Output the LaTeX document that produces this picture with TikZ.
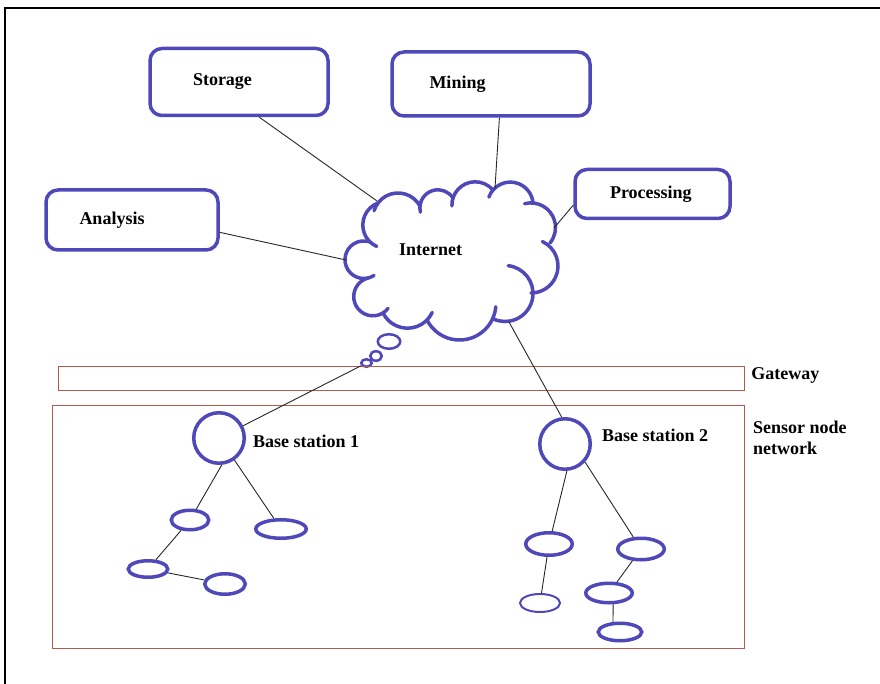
\documentclass[tikz,border=0pt]{standalone}
\usepackage{fontspec}
\setmainfont{Liberation Serif}
\usetikzlibrary{positioning,shapes.geometric}
\begin{document}
\begin{tikzpicture}[x=1pt,y=-1pt,
  font=\fontsize{18}{21}\selectfont\bfseries,
  box/.style={draw=netblue,line width=3.5pt,rounded corners=12pt,align=left,inner ysep=0pt},
  hub/.style={circle,draw=netblue,line width=3.5pt,minimum size=50.5pt,inner sep=0pt},
  sensor/.style={ellipse,draw=netblue,line width=3.5pt,inner sep=0pt},
  bubble/.style={ellipse,draw=netblue,line width=2.5pt,inner sep=0pt},
  layer/.style={draw=layerred,line width=1.3pt,inner sep=0pt},
  cloudline/.style={netblue,line width=3.5pt,line cap=round},
  link/.style={black!85,line width=0.9pt},
  lbl/.style={inner sep=0pt,anchor=west}]
\definecolor{netblue}{HTML}{4F48B8}
\definecolor{layerred}{HTML}{B55A4A}
\useasboundingbox (0,0) rectangle (880,684);
\draw[line width=2.5pt] (5,684) -- (5,8) -- (880,8);
\node[box,minimum height=67pt,inner xsep=43pt,text width=92pt] (storage) at (239,82) {Storage};
\node[box,minimum height=60pt,inner xsep=33.5pt,text width=105pt] (analysis) at (132,220) {Analysis};
\node[box,minimum height=64pt,inner xsep=37.5pt,text width=123pt] (mining) at (491,84) {Mining};
\node[box,minimum height=49pt,inner xsep=35pt,text width=85pt] (processing) at (652.5,194) {Processing};
\foreach \cx/\cy/\r/\a/\b in {386.3/225.0/23.5/114/249.3, 398.0/218.0/25/197/331.4,
  437.9/207.8/18/166/327, 475.2/205.1/23.3/178/319.7, 510.3/204.9/22.8/200/355.2,
  530.9/227.5/24.6/255/399.1, 531/266/27/295/450, 505/293.5/28/276.6/474.4,
  459.5/303.6/36.4/5/153.2, 407.5/300.9/27.3/25/153.7, 372.9/296.6/19.2/38/255.2,
  363.8/259.7/18.8/57/289.3}
  \draw[cloudline] (\cx,\cy) ++(\a:\r) arc[start angle=\a,end angle=\b,radius=\r];
\node (internet) at (430.5,250) {Internet};
\node[bubble,minimum width=22.5pt,minimum height=14.5pt] (bub1) at (389,341.5) {};
\node[bubble,minimum width=11.5pt,minimum height=9.5pt] (bub2) at (376,356) {};
\node[bubble,minimum width=10.5pt,minimum height=7.5pt] (bub3) at (366.5,363) {};
\coordinate (cS) at (377,201);
\coordinate (cM) at (495,188);
\coordinate (cP) at (554,228);
\coordinate (cA) at (346,260);
\coordinate (cB) at (509,322);
\draw[link] (storage.-60) -- (cS);
\draw[link] (mining.-76) -- (cM);
\draw[link] (processing.188) -- (cP);
\draw[link] (analysis.-8) -- (cA);
\node[layer,minimum width=686pt,minimum height=24pt] (gateway) at (401.5,378.8) {};
\node[layer,minimum width=692pt,minimum height=243pt] (sensornet) at (398.8,527) {};
\node[lbl,right=6pt of gateway.east,yshift=3pt] (gatewaylbl) {Gateway};
\node[lbl,align=left] (sensorlbl) at (753,438) {Sensor node\\network};
\node[hub] (bs1) at (219,438) {};
\node[hub] (bs2) at (565,444) {};
\node[lbl,right=7pt of bs1.east,yshift=-3pt] (bs1lbl) {Base station 1};
\node[lbl,right=10pt of bs2.east,yshift=9pt] (bs2lbl) {Base station 2};
\draw[link] (bub3) -- (bs1);
\draw[link] (cB) -- (bs2.97);
\node[sensor,minimum width=37.5pt,minimum height=19.5pt] (e1) at (190,520) {};
\node[sensor,minimum width=50.5pt,minimum height=18.5pt] (e2) at (281,529) {};
\node[sensor,minimum width=39.5pt,minimum height=16.5pt] (e3) at (148,569) {};
\node[sensor,minimum width=40.5pt,minimum height=20.5pt] (e4) at (225,584) {};
\node[sensor,minimum width=46.5pt,minimum height=22.5pt] (e5) at (549,544) {};
\node[sensor,minimum width=46.5pt,minimum height=21.5pt] (e6) at (641,549) {};
\node[sensor,line width=2pt,minimum width=40pt,minimum height=18pt] (e7) at (540,603) {};
\node[sensor,minimum width=46.5pt,minimum height=19.5pt] (e8) at (609,593) {};
\node[sensor,minimum width=43.5pt,minimum height=17.5pt] (e9) at (620,632) {};
\draw[link] (bs1.-84) -- (e1);
\draw[link] (bs1.-55) -- (e2);
\draw[link] (e1) -- (e3);
\draw[link] (e3) -- (e4);
\draw[link] (bs2.-86) -- (e5);
\draw[link] (bs2.-42) -- (e6);
\draw[link] (e5) -- (e7);
\draw[link] (e6) -- (e8);
\draw[link] (e8.-70) -- (e9.125);
\end{tikzpicture}
\end{document}
